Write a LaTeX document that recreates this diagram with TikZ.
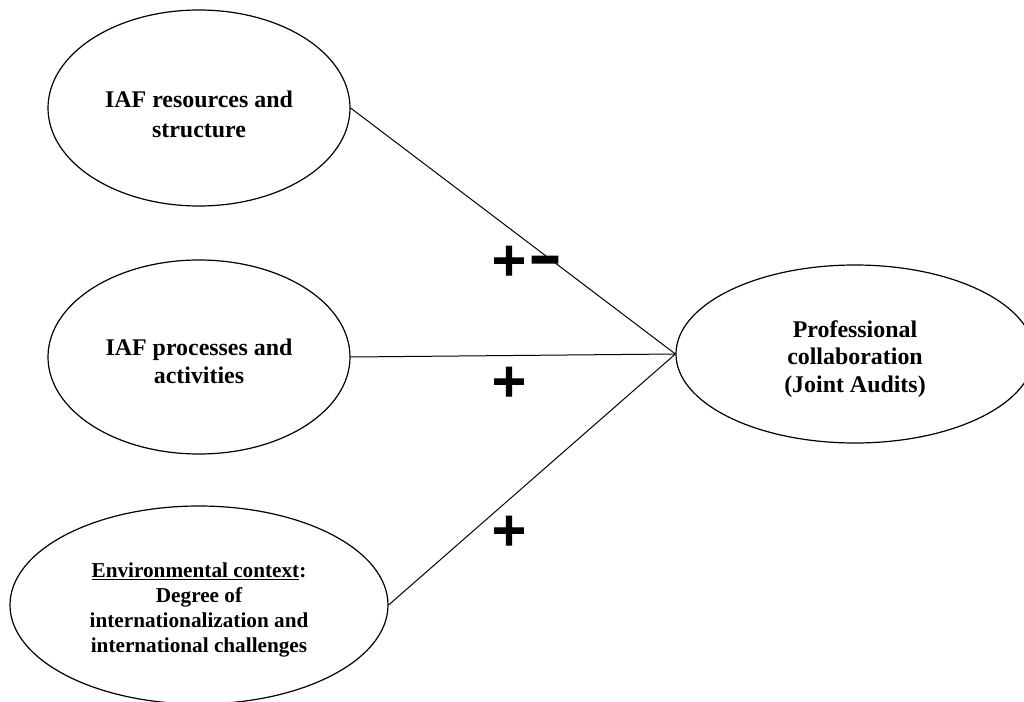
\documentclass[tikz,border=0pt]{standalone}
\usepackage{fontspec}
\setmainfont{Liberation Serif}
\newfontfamily\signfont[FakeBold=2.5]{DejaVu Sans Bold}
\usetikzlibrary{shapes.geometric}
\begin{document}
\begin{tikzpicture}[x=1bp,y=-1bp,
  oval/.style={ellipse, draw, line width=1.2bp, inner sep=0pt},
  label text/.style={align=center, inner sep=0pt},
  link/.style={draw, line width=1bp},
  sign/.style={font=\signfont\fontsize{46}{46}\selectfont, inner sep=0pt, anchor=base}]
\useasboundingbox (0,0) rectangle (1024,702);
\clip (0,0) rectangle (1024,702);
% constructs
\node[oval, minimum width=302bp, minimum height=196bp] (res) at (199,108) {};
\node[oval, minimum width=302bp, minimum height=194bp] (proc) at (199,357) {};
\node[oval, minimum width=378bp, minimum height=198bp] (env) at (199,605) {};
\node[oval, minimum width=358bp, minimum height=178bp] (pc) at (855,354) {};
% construct labels
\node[label text, font=\bfseries\fontsize{24}{30}\selectfont] (res-t) at (199,114.5)
  {IAF resources and\\structure};
\node[label text, font=\bfseries\fontsize{24}{28.5}\selectfont] (proc-t) at (199,361.5)
  {IAF processes and\\activities};
\node[label text, font=\bfseries\fontsize{21.3}{25}\selectfont] (env-t) at (199,610)
  {\underline{Environmental context}:\\Degree of\\internationalization and\\international challenges};
\node[label text, font=\bfseries\fontsize{24}{27.5}\selectfont] (pc-t) at (855,359)
  {Professional\\collaboration\\(Joint Audits)};
% relationships
\draw[link] (res.east) -- (pc.west);
\draw[link] (proc.east) -- (pc.west);
\draw[link] (env.east) -- (pc.west);
% signs
\node[sign] (s1) at (509,275) {+};
\node[sign] (s2) at (545,274) {\scalebox{1.4}[1.15]{\char"2013}};
\node[sign] (s3) at (509,396) {+};
\node[sign] (s4) at (509,545) {+};
\end{tikzpicture}
\end{document}
